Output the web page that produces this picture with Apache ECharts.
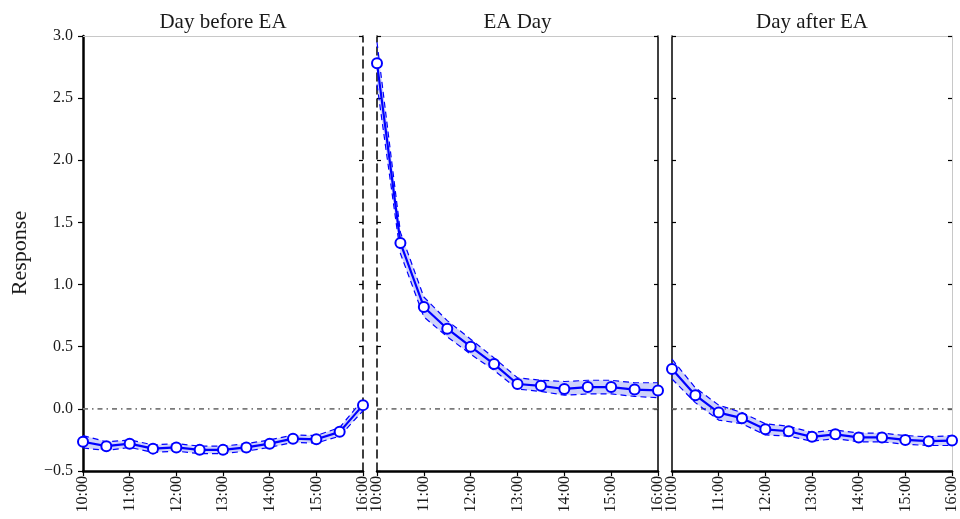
<!DOCTYPE html>
<html>
<head>
<meta charset="utf-8">
<script src="https://cdn.jsdelivr.net/npm/echarts@6/dist/echarts.min.js"></script>
<style>
  html, body { margin: 0; padding: 0; background: #fff; }
  #chart { width: 960px; height: 519px; }
</style>
</head>
<body>
<div id="chart"></div>
<script>
// Intraday response around earnings announcements (EA), half-hour steps from 10:00 to 16:00
const times = ['10:00', '10:30', '11:00', '11:30', '12:00', '12:30', '13:00',
               '13:30', '14:00', '14:30', '15:00', '15:30', '16:00'];
const panelTitles = ['Day before EA', 'EA Day', 'Day after EA'];

// Day before EA
const estBefore = [-0.265, -0.30, -0.28, -0.32, -0.31, -0.33, -0.33, -0.31, -0.28, -0.24, -0.245, -0.185, 0.03];
const loBefore  = [-0.315, -0.335, -0.31, -0.35, -0.34, -0.36, -0.36, -0.34, -0.31, -0.27, -0.275, -0.22, -0.015];
const upBefore  = [-0.215, -0.265, -0.25, -0.29, -0.28, -0.30, -0.30, -0.28, -0.25, -0.21, -0.215, -0.15, 0.075];

// EA day
const estDay = [2.78, 1.335, 0.82, 0.645, 0.50, 0.36, 0.20, 0.185, 0.16, 0.175, 0.175, 0.155, 0.148];
const loDay  = [2.61, 1.25, 0.74, 0.58, 0.44, 0.31, 0.16, 0.14, 0.11, 0.12, 0.12, 0.10, 0.09];
const upDay  = [2.95, 1.42, 0.90, 0.71, 0.56, 0.41, 0.25, 0.23, 0.22, 0.23, 0.23, 0.21, 0.21];

// Day after EA
const estAfter = [0.32, 0.11, -0.03, -0.075, -0.165, -0.18, -0.225, -0.205, -0.23, -0.23, -0.25, -0.26, -0.255];
const loAfter  = [0.24, 0.05, -0.09, -0.12, -0.21, -0.22, -0.26, -0.24, -0.265, -0.265, -0.285, -0.295, -0.295];
const upAfter  = [0.40, 0.17, 0.03, -0.03, -0.12, -0.14, -0.19, -0.17, -0.195, -0.195, -0.215, -0.225, -0.215];

const yTicks = { min: -0.5, max: 3.0, interval: 0.5 };

const FONT = '"Liberation Serif", "DejaVu Serif", serif';
const TEXT = '#1a1a1a';
const BLUE = '#0000ff';

const panels = [
  { est: estBefore, lo: loBefore, up: upBefore, left: 83, right: 597,
    leftLine: { color: '#000', width: 2.5, type: 'solid' }, leftLabels: true,
    rightLine: { color: '#000', width: 1.5, type: [8, 5] } },
  { est: estDay, lo: loDay, up: upDay, left: 377, right: 302,
    leftLine: { color: '#000', width: 1.5, type: [8, 5] }, leftLabels: false,
    rightLine: { color: '#000', width: 1.5, type: 'solid' } },
  { est: estAfter, lo: loAfter, up: upAfter, left: 672, right: 8,
    leftLine: { color: '#000', width: 1.5, type: 'solid' }, leftLabels: false,
    rightLine: { color: '#c8c8c8', width: 1, type: 'solid' } }
];

const fmtY = (v) => (v < 0 ? '\u2212' + Math.abs(v).toFixed(1) : v.toFixed(1));

const grid = [], xAxis = [], yAxis = [], series = [], graphic = [];

panels.forEach((p, i) => {
  grid.push({ left: p.left, right: p.right, top: 36, bottom: 48, containLabel: false });

  // bottom time axis, a label and tick on every full hour
  xAxis.push({
    gridIndex: i, type: 'category', data: times, boundaryGap: false, position: 'bottom',
    axisLine: { show: true, onZero: false, lineStyle: { color: '#000', width: 2.5 } },
    axisTick: { show: true, interval: 1, length: 5, lineStyle: { color: '#000', width: 1.2 } },
    axisLabel: { show: true, interval: 1, rotate: 90, margin: 5, fontFamily: FONT, fontSize: 16, color: TEXT },
    splitLine: { show: false }
  });
  // top frame edge
  xAxis.push({
    gridIndex: i, type: 'category', data: times, boundaryGap: false, position: 'top',
    axisLine: { show: true, onZero: false, lineStyle: { color: '#c8c8c8', width: 1 } },
    axisTick: { show: false }, axisLabel: { show: false }, splitLine: { show: false }
  });

  // left value axis
  yAxis.push({
    gridIndex: i, type: 'value', ...yTicks, position: 'left',
    axisLine: { show: true, onZero: false, lineStyle: p.leftLine },
    axisTick: { show: true, inside: !p.leftLabels, length: p.leftLabels ? 5 : 4,
      lineStyle: { color: '#000', width: 1.2 } },
    axisLabel: { show: p.leftLabels, margin: 10, fontFamily: FONT, fontSize: 16, color: TEXT, formatter: fmtY },
    splitLine: { show: false }
  });
  // right frame edge
  yAxis.push({
    gridIndex: i, type: 'value', ...yTicks, position: 'right',
    axisLine: { show: true, onZero: false, lineStyle: p.rightLine },
    axisTick: { show: true, inside: true, length: 4, lineStyle: { color: '#000', width: 1.2 } },
    axisLabel: { show: false }, splitLine: { show: false }
  });

  const xi = i * 2, yi = i * 2;

  // zero reference line
  series.push({
    type: 'line', xAxisIndex: xi, yAxisIndex: yi, data: times.map(() => 0),
    symbol: 'none', silent: true, z: 1,
    lineStyle: { color: '#7a7a7a', width: 1.6, type: [5, 4, 1.5, 4] }
  });

  // confidence band: invisible lower edge + stacked width filled
  series.push({
    type: 'line', xAxisIndex: xi, yAxisIndex: yi, data: p.lo,
    stack: 'band' + i, stackStrategy: 'all', symbol: 'none', silent: true, z: 2,
    lineStyle: { opacity: 0 }
  });
  series.push({
    type: 'line', xAxisIndex: xi, yAxisIndex: yi,
    data: p.up.map((u, k) => u - p.lo[k]),
    stack: 'band' + i, stackStrategy: 'all', symbol: 'none', silent: true, z: 2,
    lineStyle: { opacity: 0 },
    areaStyle: { color: 'rgba(30,50,230,0.22)', opacity: 1 }
  });

  // dashed band edges
  [p.lo, p.up].forEach((arr) => {
    series.push({
      type: 'line', xAxisIndex: xi, yAxisIndex: yi, data: arr,
      symbol: 'none', silent: true, z: 3,
      lineStyle: { color: BLUE, width: 1.2, type: [6, 4] }
    });
  });

  // point estimates
  series.push({
    type: 'line', xAxisIndex: xi, yAxisIndex: yi, data: p.est,
    symbol: 'circle', symbolSize: 10, showAllSymbol: true, z: 4,
    lineStyle: { color: BLUE, width: 2.2 },
    itemStyle: { color: '#fff', borderColor: BLUE, borderWidth: 2 }
  });

  graphic.push({
    type: 'text', x: p.left + (960 - p.left - p.right) / 2, y: 22,
    style: { text: panelTitles[i], font: '21px ' + FONT, fill: TEXT, align: 'center', verticalAlign: 'middle' }
  });
});

graphic.push({
  type: 'text', x: 20, y: 253, rotation: Math.PI / 2,
  style: { text: 'Response', font: '22px ' + FONT, fill: TEXT, align: 'center', verticalAlign: 'middle' }
});

const chart = echarts.init(document.getElementById('chart'), null, { renderer: 'canvas' });
chart.setOption({
  animation: false,
  backgroundColor: '#fff',
  grid, xAxis, yAxis, series, graphic
});
</script>
</body>
</html>
